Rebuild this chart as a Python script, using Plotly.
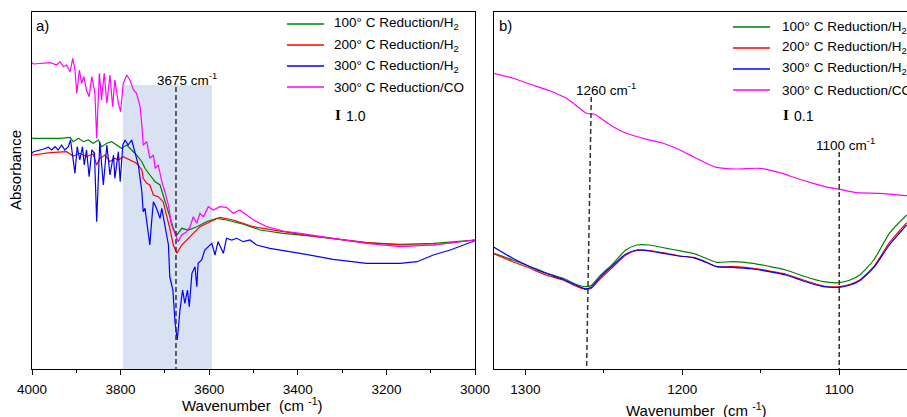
import plotly.graph_objects as go

# ---------------- Panel a data (wavenumber cm-1, absorbance a.u.) ----------------
wn_a_co = [4000, 3997, 3959, 3944, 3937, 3929, 3922, 3914, 3908, 3903, 3899, 3893, 3888, 3883,
           3877, 3871, 3865, 3858, 3854, 3848, 3843, 3837, 3831, 3824, 3818, 3813, 3805, 3800,
           3794, 3786, 3779, 3771, 3764, 3756, 3752, 3749, 3741, 3734, 3726, 3722, 3715, 3707,
           3700, 3692, 3685, 3677, 3670, 3662, 3651, 3643, 3636, 3628, 3621, 3613, 3602, 3591,
           3576, 3561, 3546, 3531, 3500, 3470, 3433, 3395, 3320, 3245, 3169, 3094, 3000]
abs_a_co = [30.63, 30.50, 30.63, 30.40, 30.73, 30.23, 30.40, 29.73, 31.07, 29.90, 27.57, 29.90,
            28.57, 29.23, 27.90, 27.23, 29.23, 27.57, 23.07, 29.57, 26.90, 29.57, 26.57, 29.40,
            26.23, 28.90, 26.57, 25.73, 28.57, 29.40, 28.90, 27.90, 27.57, 26.23, 24.40, 22.40,
            22.73, 21.07, 21.40, 20.07, 20.40, 18.73, 17.73, 16.40, 14.40, 13.40, 12.73, 13.40,
            13.73, 14.23, 15.23, 14.57, 15.57, 15.23, 16.23, 15.90, 16.23, 16.17, 15.57, 15.90,
            14.90, 14.23, 13.80, 13.57, 13.07, 12.57, 12.23, 12.40, 12.90]

wn_a_100 = [4000, 3997, 3937, 3914, 3907, 3895, 3884, 3873, 3862, 3850, 3843, 3831, 3820, 3809,
            3798, 3786, 3775, 3764, 3752, 3745, 3734, 3722, 3711, 3704, 3696, 3689, 3681, 3673,
            3662, 3647, 3628, 3606, 3583, 3561, 3530, 3485, 3433, 3357, 3245, 3169, 3094, 3000]
abs_a_100 = [23.13, 23.07, 23.07, 23.17, 22.73, 23.07, 22.73, 22.90, 22.57, 22.90, 22.23, 22.57,
             22.73, 22.40, 22.07, 22.40, 21.90, 21.40, 20.73, 20.07, 19.40, 18.73, 18.40, 17.40,
             16.07, 15.07, 14.07, 13.40, 14.07, 13.90, 14.23, 14.73, 15.07, 14.90, 14.57, 13.90,
             13.57, 13.23, 12.63, 12.47, 12.57, 12.90]

wn_a_200 = [4000, 3997, 3959, 3922, 3907, 3892, 3877, 3862, 3854, 3847, 3835, 3824, 3813, 3805,
            3794, 3779, 3764, 3752, 3749, 3741, 3734, 3726, 3715, 3704, 3696, 3689, 3681, 3673,
            3662, 3647, 3621, 3598, 3576, 3546, 3500, 3433, 3357, 3245, 3169, 3094, 3000]
abs_a_200 = [21.40, 21.40, 21.63, 21.73, 21.30, 21.57, 21.23, 21.50, 20.40, 21.07, 21.40, 20.73,
             21.07, 20.90, 21.23, 20.90, 20.57, 19.90, 19.07, 18.57, 18.40, 17.40, 17.23, 16.73,
             15.40, 14.07, 12.40, 11.57, 12.40, 13.07, 14.23, 14.73, 15.17, 14.90, 14.23, 13.73,
             13.23, 12.63, 12.40, 12.40, 12.90]

wn_a_300 = [4000, 3997, 3975, 3963, 3956, 3948, 3941, 3933, 3926, 3918, 3913, 3908, 3903, 3898,
            3892, 3886, 3882, 3877, 3871, 3865, 3859, 3854, 3847, 3839, 3831, 3824, 3816, 3813,
            3805, 3801, 3795, 3790, 3783, 3775, 3768, 3760, 3752, 3749, 3745, 3741, 3737, 3734,
            3730, 3726, 3719, 3711, 3707, 3700, 3692, 3689, 3682, 3677, 3672, 3666, 3660, 3655,
            3649, 3645, 3639, 3632, 3628, 3625, 3617, 3610, 3602, 3594, 3587, 3580, 3568, 3561,
            3549, 3538, 3523, 3508, 3493, 3463, 3395, 3320, 3245, 3169, 3131, 3094, 3056, 3000]
abs_a_300 = [21.57, 21.73, 21.97, 22.17, 21.90, 22.23, 21.90, 22.40, 21.90, 22.23, 22.90, 20.90,
             19.57, 22.23, 20.90, 22.23, 20.40, 21.90, 19.23, 21.90, 21.57, 14.73, 22.73, 18.40,
             22.40, 19.40, 21.40, 19.07, 21.73, 18.73, 22.40, 22.90, 22.40, 22.90, 21.73, 20.40,
             17.73, 15.73, 16.07, 14.73, 13.40, 12.40, 14.73, 16.73, 16.07, 15.07, 16.07, 14.40,
             12.40, 9.23, 7.90, 4.57, 2.90, 5.90, 7.90, 6.57, 7.90, 6.23, 9.57, 10.23, 8.23,
             10.57, 10.90, 11.90, 12.23, 12.57, 11.40, 12.73, 11.57, 13.07, 12.90, 13.07, 12.73,
             12.90, 12.40, 12.07, 11.57, 10.97, 10.57, 10.57, 10.73, 11.40, 11.90, 12.83]

# ---------------- Panel b data ----------------
wn_b_h2 = [1320, 1308, 1297, 1287, 1276, 1268, 1262, 1258, 1253, 1244, 1236, 1229, 1221, 1210,
           1202, 1193, 1185, 1178, 1168, 1155, 1142, 1134, 1123, 1110, 1100, 1093, 1087, 1078,
           1068, 1057]
abs_b_100 = [1.157, 1.090, 1.023, 0.963, 0.907, 0.850, 0.823, 0.835, 0.923, 1.057, 1.190, 1.240,
             1.240, 1.207, 1.183, 1.157, 1.107, 1.067, 1.073, 1.057, 1.017, 0.990, 0.930, 0.873,
             0.863, 0.890, 0.940, 1.090, 1.357, 1.540]
abs_b_200 = [1.151, 1.073, 1.007, 0.940, 0.890, 0.830, 0.797, 0.807, 0.890, 1.023, 1.140, 1.185,
             1.185, 1.157, 1.130, 1.117, 1.073, 1.023, 1.023, 1.007, 0.973, 0.950, 0.890, 0.830,
             0.823, 0.847, 0.890, 1.023, 1.263, 1.463]
abs_b_300 = [1.217, 1.107, 1.023, 0.957, 0.897, 0.840, 0.803, 0.817, 0.907, 1.040, 1.150, 1.190,
             1.180, 1.150, 1.130, 1.113, 1.067, 1.023, 1.017, 1.000, 0.967, 0.940, 0.880, 0.823,
             0.817, 0.840, 0.883, 1.013, 1.240, 1.440]
wn_b_co = [1320.2, 1307.9, 1297.3, 1284.5, 1273.9, 1265.4, 1261.1, 1255.8, 1250.5, 1244.1,
           1235.6, 1222.8, 1212.2, 1201.5, 1193.1, 1184.5, 1178.2, 1165.4, 1150.6, 1137.8,
           1127.2, 1116.6, 1106.0, 1099.6, 1089.0, 1074.1, 1056.8]
abs_b_co = [2.957, 2.907, 2.850, 2.783, 2.707, 2.607, 2.557, 2.547, 2.490, 2.423, 2.357, 2.297,
            2.257, 2.190, 2.123, 2.057, 2.017, 2.000, 2.007, 1.963, 1.907, 1.857, 1.813, 1.797,
            1.763, 1.757, 1.733]

series_names = ["100° C Reduction/H<sub>2</sub>", "200° C Reduction/H<sub>2</sub>",
                "300° C Reduction/H<sub>2</sub>", "300° C Reduction/CO"]
series_colors = ["#008000", "#ff0000", "#0000ff", "#ff00ff"]

x_ticks_a = [4000, 3800, 3600, 3400, 3200, 3000]
x_ticks_b = [1300, 1200, 1100]

# annotated features
peak_a = 3675
band_a = [3795, 3594]
peak_b1 = [1258, 1261]   # slightly slanted dashed line (top, bottom)
peak_b2 = [1100, 1100]

W, H = 907, 417
FONT = "Liberation Sans, Arial, sans-serif"


def px(x):
    return x / W


def py(y):
    return (H - y) / H


fig = go.Figure()

data_a = [(wn_a_100, abs_a_100), (wn_a_200, abs_a_200), (wn_a_300, abs_a_300), (wn_a_co, abs_a_co)]
data_b = [(wn_b_h2, abs_b_100), (wn_b_h2, abs_b_200), (wn_b_h2, abs_b_300), (wn_b_co, abs_b_co)]

for (xs, ys), name, col in zip(data_a, series_names, series_colors):
    fig.add_trace(go.Scatter(x=xs, y=ys, mode="lines", name=name, showlegend=False,
                             line=dict(color=col, width=1.2), xaxis="x", yaxis="y"))
for (xs, ys), name, col in zip(data_b, series_names, series_colors):
    fig.add_trace(go.Scatter(x=xs, y=ys, mode="lines", name=name, showlegend=False,
                             line=dict(color=col, width=1.2, shape="spline", smoothing=0.6),
                             xaxis="x2", yaxis="y2"))

ydom = [py(369), py(12)]
axis_common = dict(showgrid=False, zeroline=False, showline=True, linecolor="black", linewidth=1.3,
                   ticks="outside", ticklen=5, tickwidth=1.2, tickcolor="black", automargin=False,
                   tickfont=dict(family=FONT, size=13.5, color="black"))
yaxis_common = dict(showticklabels=False, showgrid=False, zeroline=False, automargin=False,
                    showline=True, linecolor="black", linewidth=1.3, ticks="")

fig.update_layout(
    template=go.layout.Template(),
    width=W, height=H, margin=dict(l=0, r=0, t=0, b=0, pad=0), autosize=False,
    paper_bgcolor="white", plot_bgcolor="white", showlegend=False,
    xaxis=dict(domain=[px(32), px(475)], range=[4000, 3000], tickvals=x_ticks_a, mirror=True,
               anchor="y", minor=dict(dtick=100, ticks="outside", ticklen=3, tickcolor="black"),
               ticklabelstandoff=3, **axis_common),
    yaxis=dict(domain=ydom, range=[0, 35.7], mirror=True, anchor="x", **yaxis_common),
    xaxis2=dict(domain=[px(494), 1.0], range=[1320, 1056.8], tickvals=x_ticks_b, mirror=True,
                anchor="y2", minor=dict(dtick=50, ticks="outside", ticklen=3, tickcolor="black"),
                ticklabelstandoff=3, **axis_common),
    yaxis2=dict(domain=ydom, range=[0, 3.57], mirror=False, anchor="x2", **yaxis_common),
)

shapes = []
# shaded band and dashed markers
shapes.append(dict(type="rect", xref="x", yref="y", x0=band_a[0], x1=band_a[1], y0=0, y1=28.4,
                   fillcolor="rgb(217,226,243)", line=dict(width=0), layer="below"))
shapes.append(dict(type="line", xref="x", yref="y", x0=peak_a, x1=peak_a, y0=28.2, y1=0,
                   line=dict(color="#333333", width=1.5, dash="5px,3px")))
shapes.append(dict(type="line", xref="x2", yref="y2", x0=peak_b1[0], x1=peak_b1[1], y0=2.72, y1=0,
                   line=dict(color="#333333", width=1.5, dash="5px,3px")))
shapes.append(dict(type="line", xref="x2", yref="y2", x0=peak_b2[0], x1=peak_b2[1], y0=2.17, y1=0,
                   line=dict(color="#333333", width=1.5, dash="5px,3px")))

annotations = []


def text(x, y, s, size=14, anchor="left", angle=0, family=FONT):
    annotations.append(dict(x=px(x), y=py(y), xref="paper", yref="paper", text=s, showarrow=False,
                            xanchor=anchor, yanchor="middle", textangle=angle,
                            font=dict(family=family, size=size, color="black")))


# legends
for i, (name, col) in enumerate(zip(series_names, series_colors)):
    ya = 24 + 21 * i
    shapes.append(dict(type="line", xref="paper", yref="paper", x0=px(287), x1=px(324),
                       y0=py(ya), y1=py(ya), line=dict(color=col, width=1.5)))
    text(332, ya, name, size=13.5)
    yb = 27 + 21 * i
    shapes.append(dict(type="line", xref="paper", yref="paper", x0=px(733), x1=px(770),
                       y0=py(yb), y1=py(yb), line=dict(color=col, width=1.5)))
    text(780, yb, name, size=13.5)

# scale bars
text(338, 115, "<b>I</b>", size=15, anchor="center", family="Liberation Serif, serif")
text(344, 116, "1.0", size=14)
text(786, 115, "<b>I</b>", size=15, anchor="center", family="Liberation Serif, serif")
text(792, 116, "0.1", size=14)

# panel labels and peak labels
text(34, 26, "a)", size=15)
text(497, 26, "b)", size=15)
text(187, 79, "3675 cm<sup>-1</sup>", size=13.5, anchor="center")
text(606, 89, "1260 cm<sup>-1</sup>", size=13.5, anchor="center")
text(845, 144, "1100 cm<sup>-1</sup>", size=13.5, anchor="center")

# axis titles
text(252, 404, "Wavenumber  (cm <sup>-1</sup>)", size=15, anchor="center")
text(696, 409, "Wavenumber  (cm <sup>-1</sup>)", size=15, anchor="center")
text(15, 170, "Absorbance", size=15, anchor="center", angle=-90)

fig.update_layout(shapes=shapes, annotations=annotations)

fig.write_html("out.html", config={"displayModeBar": False},
               post_script="document.body.style.margin='0';document.body.style.overflow='hidden';")
